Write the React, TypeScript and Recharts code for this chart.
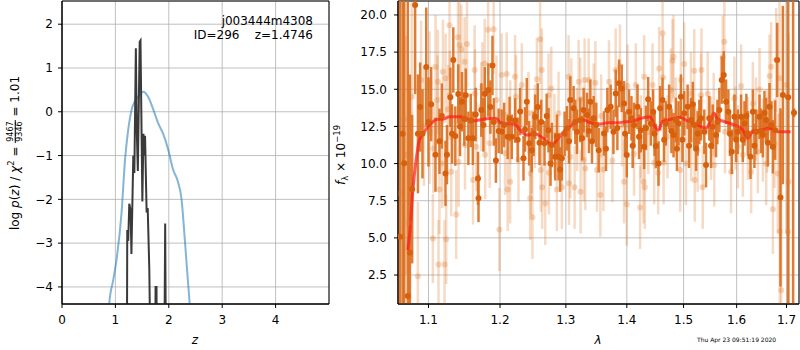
import React from 'react'
import {
  ComposedChart,
  Line,
  Scatter,
  ErrorBar,
  XAxis,
  YAxis,
  CartesianGrid,
  ReferenceArea,
} from 'recharts'

const FONT = '"DejaVu Sans", Verdana, sans-serif'

// left panel: log p(z)
const zTicks = [0, 1, 2, 3, 4]
const logpTicks = [-4, -3, -2, -1, 0, 1, 2]

const pzPrior: [number, number][] = [
  [0.85, -5.2], [0.885, -4.38], [0.96, -3.84], [1.03, -3.3], [1.115, -2.31],
  [1.18, -1.1], [1.24, -0.41], [1.32, 0.12], [1.43, 0.35], [1.52, 0.46],
  [1.61, 0.35], [1.71, 0.05], [1.8, -0.26], [1.89, -0.49], [1.99, -0.87],
  [2.08, -1.32], [2.17, -1.59], [2.24, -2.01], [2.3, -2.92], [2.36, -3.9],
  [2.39, -4.38], [2.42, -5.2],
]

const pzFit: [number, number][] = [
  [1.215, -6], [1.222, -2.7], [1.24, -2.95], [1.26, -2.1], [1.285, -2.25],
  [1.3, -3.25], [1.335, -1.0], [1.355, -1.4], [1.383, 1.45], [1.4, -0.4],
  [1.42, -1.35], [1.455, 1.6], [1.47, 1.63], [1.505, -2.05], [1.525, -0.5],
  [1.54, -1.0], [1.555, -0.55], [1.585, -2.3], [1.605, -2.2], [1.635, -3.6],
  [1.66, -6], [1.745, -6], [1.752, -4.0], [1.77, -4.0], [1.776, -6],
  [1.915, -6], [1.932, -2.55], [1.948, -6],
]

// right panel: spectrum
const lamTicks = [1.1, 1.2, 1.3, 1.4, 1.5, 1.6, 1.7]
const fluxTicks = [2.5, 5, 7.5, 10, 12.5, 15, 17.5, 20]

// [lambda, flux, err]
const fluxFaint: [number, number, number][] = [
  [1.0625, 8.0, 15], [1.068, 13.0, 12], [1.0704, 10.57, 8], [1.074, 6.0, 10],
  [1.078, 14.5, 8], [1.0859, 2.42, 5], [1.0902, 15.62, 4], [1.094, 12.5, 4],
  [1.1014, 15.4, 3.5], [1.1015, 12.14, 3.5], [1.1059, 4.96, 3], [1.1065, 11.02, 3],
  [1.1095, 16.5, 3.5], [1.112, 14.28, 3], [1.1127, 15.5, 3.5], [1.1135, 3.21, 3],
  [1.1148, 8.26, 3], [1.1185, 10.0, 3], [1.1195, 16.18, 3.5], [1.1217, 3.21, 3],
  [1.1231, 15.74, 3], [1.124, 4.9, 3], [1.1264, 13.65, 3], [1.1285, 19.3, 3.5],
  [1.129, 14.6, 3], [1.1309, 9.45, 3], [1.1378, 6.58, 3], [1.1402, 18.5, 3],
  [1.141, 10.1, 3], [1.1424, 17.98, 3], [1.1448, 17.7, 3], [1.1494, 16.86, 3],
  [1.15, 11.25, 3], [1.1528, 18.05, 3], [1.1612, 8.9, 3], [1.1635, 16.3, 3],
  [1.164, 14.7, 3], [1.1659, 11.13, 3], [1.173, 13.82, 3], [1.1745, 15.17, 3],
  [1.1778, 16.74, 3], [1.1785, 10.6, 3], [1.1827, 19.0, 3], [1.185, 11.36, 3],
  [1.1908, 19.04, 3], [1.1947, 14.28, 3], [1.199, 5.57, 2.8],
  [1.2024, 15.96, 2.8], [1.2074, 10.69, 2.8], [1.2098, 16.03, 2.8], [1.2112, 8.26, 2.8],
  [1.2148, 8.77, 2.8], [1.215, 12.8, 2.8], [1.2221, 15.85, 2.8], [1.2235, 14.5, 2.8],
  [1.2272, 10.24, 2.8], [1.2322, 15.29, 2.8], [1.2422, 13.38, 2.8], [1.2448, 7.66, 2.8],
  [1.2455, 9.34, 2.8], [1.2472, 10.8, 2.8], [1.2482, 6.38, 2.8], [1.252, 12.5, 2.8],
  [1.255, 15.67, 2.8], [1.26, 18.36, 3], [1.261, 9.56, 2.8], [1.2625, 16.3, 2.8],
  [1.2632, 8.4, 2.8], [1.2678, 7.32, 2.8], [1.2729, 14.6, 2.8], [1.2735, 9.38, 2.8],
  [1.2771, 15.06, 2.8], [1.282, 11.9, 2.8], [1.2858, 8.26, 2.8], [1.2885, 13.38, 2.8],
  [1.2937, 8.4, 2.8], [1.3043, 15.85, 2.8], [1.305, 8.67, 2.8], [1.307, 10.46, 2.8],
  [1.3086, 14.28, 2.8], [1.3139, 8.4, 2.8], [1.318, 12.3, 2.8], [1.3203, 15.51, 2.8],
  [1.323, 14.33, 2.8], [1.3235, 8.1, 2.8], [1.3284, 10.24, 2.8], [1.33, 15.62, 2.8],
  [1.3311, 9.67, 2.8], [1.3365, 15.62, 2.8], [1.3447, 13.94, 2.8], [1.3475, 15.44, 2.8],
  [1.3501, 9.56, 2.8], [1.3557, 7.88, 2.8], [1.357, 13.2, 2.8],
  [1.3607, 9.6, 2.8], [1.37, 15.5, 2.8], [1.3756, 10.2, 2.8], [1.3811, 16.3, 2.8],
  [1.3883, 16.57, 2.8], [1.392, 12.6, 2.8], [1.3953, 8.77, 2.8], [1.3999, 7.27, 2.8],
  [1.4011, 15.22, 2.8], [1.4124, 10.64, 2.8], [1.4153, 15.29, 2.8], [1.4228, 7.05, 2.8],
  [1.424, 11.8, 2.8], [1.4287, 8.77, 2.8], [1.4298, 15.85, 2.8], [1.431, 8.4, 2.8],
  [1.437, 12.1, 2.8], [1.4445, 15.29, 2.8], [1.4473, 10.05, 2.8], [1.4544, 9.38, 2.8],
  [1.4562, 16.4, 2.8], [1.4622, 18.77, 3], [1.463, 15.8, 2.8], [1.464, 10.05, 2.8],
  [1.4711, 11.8, 2.8], [1.477, 14.95, 2.8], [1.48, 16.92, 2.8], [1.4818, 17.19, 2.8],
  [1.486, 13.0, 2.8], [1.4939, 9.56, 2.8], [1.4952, 15.62, 2.8], [1.5012, 16.7, 2.8],
  [1.5043, 10.0, 2.8], [1.514, 11.6, 2.8], [1.5135, 14.7, 2.8], [1.5196, 16.25, 2.8],
  [1.5205, 8.89, 2.8], [1.5259, 10.9, 2.8], [1.5321, 14.6, 2.8], [1.533, 16.3, 2.8],
  [1.5353, 8.4, 2.8],
  [1.5447, 14.7, 2.8], [1.5509, 11.7, 2.8], [1.556, 13.3, 2.8], [1.5571, 9.9, 2.8],
  [1.5732, 17.15, 2.8], [1.5763, 18.2, 2.8], [1.5775, 12.14, 2.8], [1.5892, 9.45, 2.8],
  [1.5956, 14.4, 2.8], [1.598, 12.4, 2.8], [1.6023, 11.13, 2.8], [1.6087, 15.22, 2.8],
  [1.6121, 10.57, 2.8], [1.622, 11.7, 2.8], [1.6284, 9.45, 2.8], [1.6318, 14.05, 2.8],
  [1.638, 13.0, 2.8], [1.6417, 10.8, 2.8], [1.6451, 14.99, 2.8], [1.6518, 11.58, 2.8],
  [1.6585, 10.0, 2.8], [1.66, 12.2, 2.8], [1.6652, 15.89, 2.8], [1.6686, 16.52, 3],
  [1.6721, 6.92, 3], [1.6754, 11.36, 3], [1.6788, 16.97, 3.5], [1.6822, 9.34, 4],
  [1.6856, 15.74, 8], [1.686, 5.41, 8], [1.6891, 1.48, 12], [1.6996, 15.29, 10],
  [1.7031, 5.41, 10], [1.7044, 8.77, 10],
]

const fluxGood: [number, number, number][] = [
  [1.0625, 5.07, 20], [1.066, 12.0, 20], [1.068, 10.03, 14], [1.0727, 1.08, 20],
  [1.0755, 4.0, 12], [1.0784, 8.28, 5], [1.0823, 20.67, 6], [1.086, 12.0, 4],
  [1.0889, 13.8, 3], [1.092, 12.0, 3], [1.097, 16.5, 4], [1.1, 12.8, 3],
  [1.1036, 14.0, 2.5], [1.1094, 10.6, 2.5], [1.1148, 11.5, 2.2], [1.118, 13.2, 2.2],
  [1.123, 9.34, 2.2], [1.125, 10.6, 2], [1.1297, 14.46, 2], [1.132, 12.0, 2],
  [1.1337, 16.97, 2.2], [1.1365, 11.85, 2], [1.1406, 14.68, 2], [1.143, 12.5, 2],
  [1.1457, 14.16, 2], [1.149, 13.0, 1.8], [1.151, 14.6, 1.8], [1.1547, 11.7, 1.8],
  [1.158, 12.9, 1.8], [1.161, 11.7, 1.8], [1.165, 13.3, 1.8], [1.1683, 9.0, 1.8],
  [1.169, 7.66, 1.6], [1.173, 13.6, 1.8], [1.176, 12.6, 1.8], [1.178, 14.7, 1.8],
  [1.183, 14.95, 1.8], [1.186, 13.8, 1.8], [1.189, 16.6, 2], [1.191, 12.8, 1.6],
  [1.194, 10.2, 1.5], [1.198, 12.2, 1.5],
  [1.2024, 12.14, 1.5], [1.206, 12.6, 1.5], [1.2112, 11.8, 1.5], [1.214, 13.0, 1.5],
  [1.2172, 11.8, 1.5], [1.2222, 12.9, 1.5], [1.226, 11.6, 1.5], [1.2297, 13.5, 1.6],
  [1.2347, 10.35, 1.5], [1.237, 12.3, 1.5], [1.2397, 14.16, 1.6], [1.2432, 11.37, 1.5],
  [1.2472, 10.9, 1.5], [1.25, 12.0, 1.5], [1.2524, 13.15, 1.5], [1.2564, 13.8, 1.6],
  [1.259, 11.4, 1.5], [1.2616, 12.8, 1.5], [1.2667, 11.36, 1.5], [1.27, 13.2, 1.5],
  [1.2729, 12.25, 1.5], [1.276, 10.0, 1.5], [1.278, 11.25, 1.5], [1.2833, 10.46, 1.6],
  [1.286, 11.8, 1.5], [1.2885, 10.46, 1.6], [1.291, 9.6, 1.5], [1.2937, 10.35, 1.5],
  [1.298, 12.0, 1.5], [1.3017, 12.37, 1.5], [1.305, 11.5, 1.5], [1.307, 14.28, 1.6],
  [1.3123, 13.72, 1.5], [1.315, 12.8, 1.5], [1.3176, 12.14, 1.5], [1.323, 12.93, 1.5],
  [1.326, 11.7, 1.5], [1.3284, 13.6, 1.5], [1.3338, 13.27, 1.5], [1.337, 12.2, 1.5],
  [1.3393, 14.16, 1.5], [1.342, 11.5, 1.5], [1.3447, 13.05, 1.5], [1.349, 12.6, 1.5],
  [1.3529, 10.9, 1.5],
  [1.3617, 12.03, 1.5], [1.365, 11.0, 1.5], [1.3673, 13.6, 1.5], [1.3728, 13.82, 1.5],
  [1.3774, 12.14, 1.5], [1.3813, 14.72, 1.6], [1.384, 12.4, 1.5], [1.3869, 15.4, 1.6],
  [1.3914, 15.06, 1.6], [1.3953, 14.05, 1.5], [1.397, 12.0, 1.5], [1.3999, 10.57, 1.5],
  [1.4038, 13.49, 1.5], [1.4079, 13.05, 1.5], [1.41, 11.2, 1.5], [1.4124, 12.6, 1.5],
  [1.4183, 13.82, 1.5], [1.421, 11.8, 1.5], [1.424, 12.25, 1.5], [1.4298, 11.13, 1.5],
  [1.433, 12.4, 1.5], [1.4368, 14.33, 1.5], [1.4415, 12.7, 1.5], [1.4455, 13.49, 1.5],
  [1.448, 12.0, 1.5], [1.4503, 11.18, 1.5], [1.455, 10.0, 1.5], [1.4579, 13.72, 1.5],
  [1.4621, 14.28, 1.5], [1.465, 11.6, 1.5], [1.468, 12.7, 1.5], [1.4739, 13.82, 1.5],
  [1.478, 12.2, 1.5], [1.4818, 11.92, 1.5], [1.486, 12.93, 1.5], [1.488, 11.0, 1.5],
  [1.4908, 12.7, 1.5], [1.4952, 14.5, 1.5], [1.498, 11.6, 1.5], [1.5012, 13.38, 1.5],
  [1.5074, 13.82, 1.5], [1.51, 11.2, 1.5], [1.5135, 12.93, 1.5], [1.517, 14.0, 1.5],
  [1.5196, 12.6, 1.5], [1.523, 11.0, 1.5], [1.5259, 12.03, 1.5], [1.529, 12.8, 1.5],
  [1.5321, 13.05, 1.5],
  [1.5383, 12.14, 1.5], [1.5415, 9.9, 1.5], [1.5477, 13.05, 1.5], [1.551, 11.2, 1.5],
  [1.5541, 12.48, 1.5], [1.5604, 11.92, 1.5], [1.563, 12.8, 1.5], [1.5667, 13.6, 1.5],
  [1.5712, 15.62, 1.6], [1.5751, 15.96, 1.6], [1.5796, 14.16, 1.5], [1.584, 13.49, 1.5],
  [1.587, 12.0, 1.5], [1.5906, 10.8, 1.5], [1.5957, 13.15, 1.5], [1.599, 11.6, 1.5],
  [1.6023, 12.14, 1.5], [1.6087, 13.15, 1.5], [1.612, 11.6, 1.5], [1.6153, 12.7, 1.5],
  [1.619, 13.2, 1.5], [1.622, 12.03, 1.5], [1.6271, 10.46, 1.5], [1.6319, 13.49, 1.5],
  [1.635, 11.2, 1.5], [1.6385, 12.14, 1.5], [1.6451, 13.15, 1.5], [1.648, 12.2, 1.5],
  [1.6518, 11.92, 1.5], [1.655, 13.4, 1.5], [1.6585, 12.93, 1.5], [1.662, 11.4, 1.6],
  [1.6652, 13.82, 1.6], [1.669, 12.6, 1.6], [1.672, 11.13, 1.8], [1.6767, 12.25, 2],
  [1.6808, 16.97, 2.5], [1.6876, 7.72, 6], [1.6925, 14.61, 6], [1.7035, 14.46, 25],
  [1.7137, 25.0, 30], [1.7155, 13.42, 0.3],
]

const modelFlux: [number, number][] = [
  [1.0727, 4.18], [1.0757, 5.52], [1.079, 7.99], [1.0836, 10.24], [1.0879, 11.58],
  [1.0947, 12.14], [1.1014, 12.59], [1.1128, 12.98], [1.1195, 12.98], [1.1285, 13.15],
  [1.1424, 13.15], [1.1517, 13.04], [1.1602, 12.88], [1.1706, 12.93], [1.185, 13.04],
  [1.1947, 13.04], [1.2005, 12.75], [1.2074, 12.7], [1.2221, 12.64], [1.2297, 12.25],
  [1.2397, 11.92], [1.2524, 11.99], [1.2651, 11.7], [1.278, 11.25], [1.2858, 11.58],
  [1.2964, 12.14], [1.3043, 12.37], [1.315, 12.82], [1.3284, 12.93], [1.3393, 12.75],
  [1.3557, 12.66], [1.3673, 12.75], [1.3841, 12.75], [1.3982, 12.82], [1.4124, 12.88],
  [1.424, 13.04], [1.4403, 13.15], [1.4473, 12.59], [1.4544, 12.25], [1.4622, 12.82],
  [1.477, 12.98], [1.4952, 13.11], [1.5043, 12.93], [1.5196, 12.7], [1.5353, 12.44],
  [1.5415, 12.37], [1.5496, 12.82], [1.556, 13.38], [1.5635, 12.98], [1.5763, 12.82],
  [1.5956, 12.59], [1.6121, 12.25], [1.622, 11.7], [1.6318, 12.19], [1.6484, 12.25],
  [1.6652, 12.37], [1.6822, 12.14], [1.7084, 12.14],
]

const toXY = (rows: [number, number][]) => rows.map(([x, y]) => ({ x, y }))
const toXYE = (rows: [number, number, number][]) => rows.map(([x, y, err]) => ({ x, y, err }))

const tickStyle = { fontSize: 12, fill: '#000', fontFamily: FONT }
const minus = (v: number) => String(v).replace('-', '\u2212')

const faintDot = (p: any) => <circle cx={p.cx} cy={p.cy} r={3} fill="#e07a2a" fillOpacity={0.3} />
const goodDot = (p: any) => <circle cx={p.cx} cy={p.cy} r={3} fill="#d8600c" />

const abs = (extra: React.CSSProperties): React.CSSProperties => ({
  position: 'absolute',
  fontFamily: FONT,
  color: '#000',
  whiteSpace: 'pre',
  ...extra,
})

// error bars are not clipped by recharts, so clip the scatter layers to the plot box
const clipCss = `
.spec .recharts-scatter, .spec .recharts-errorBars, .spec .recharts-errorBar { clip-path: url(#specPlot); }
`

export default function App() {
  return (
    <div style={{ position: 'absolute', left: 0, top: 0, width: 800, height: 350, background: '#fff' }}>
      <style>{clipCss}</style>
      <svg width={0} height={0} style={{ position: 'absolute' }}>
        <defs>
          <clipPath id="specPlot" clipPathUnits="userSpaceOnUse">
            <rect x={68} y={1} width={401} height={303} />
          </clipPath>
        </defs>
      </svg>

      <div style={{ position: 'absolute', left: 0, top: 0 }}>
        <ComposedChart width={340} height={350} margin={{ top: 1, right: 11, bottom: 0, left: 0 }}>
          <CartesianGrid stroke="#b0b0b0" strokeWidth={0.8} />
          <XAxis
            dataKey="x"
            type="number"
            domain={[0, 5]}
            ticks={zTicks}
            allowDataOverflow
            height={46}
            tick={tickStyle}
            tickSize={4}
            tickMargin={7}
            stroke="#000"
          />
          <YAxis
            dataKey="y"
            type="number"
            domain={[-4.39, 2.53]}
            ticks={logpTicks}
            allowDataOverflow
            width={62}
            tick={tickStyle}
            tickSize={4}
            tickMargin={5}
            tickFormatter={minus}
            stroke="#000"
          />
          <Line
            data={toXY(pzPrior)}
            dataKey="y"
            type="monotone"
            stroke="#1f77b4"
            strokeOpacity={0.55}
            strokeWidth={2}
            dot={false}
            isAnimationActive={false}
          />
          <Line
            data={toXY(pzFit)}
            dataKey="y"
            type="linear"
            stroke="#3a3a3a"
            strokeWidth={2}
            dot={false}
            isAnimationActive={false}
          />
          <ReferenceArea x1={0} x2={5} y1={-4.39} y2={2.53} fill="none" stroke="#000" strokeWidth={1} />
        </ComposedChart>
      </div>

      <div className="spec" style={{ position: 'absolute', left: 330, top: 0 }}>
        <ComposedChart width={470} height={350} margin={{ top: 1, right: 1, bottom: 0, left: 0 }}>
          <CartesianGrid stroke="#b0b0b0" strokeWidth={0.8} />
          <XAxis
            dataKey="x"
            type="number"
            scale="log"
            domain={[1.06, 1.726]}
            ticks={lamTicks}
            allowDataOverflow
            height={46}
            tick={tickStyle}
            tickSize={4}
            tickMargin={7}
            tickFormatter={(v: number) => v.toFixed(1)}
            stroke="#000"
          />
          <YAxis
            dataKey="y"
            type="number"
            domain={[0.55, 20.94]}
            ticks={fluxTicks}
            allowDataOverflow
            width={68}
            tick={tickStyle}
            tickSize={4}
            tickMargin={7}
            tickFormatter={(v: number) => v.toFixed(1)}
            stroke="#000"
          />
          <Scatter data={toXYE(fluxFaint)} shape={faintDot} isAnimationActive={false}>
            <ErrorBar
              dataKey="err"
              direction="y"
              width={0}
              stroke="#e07a2a"
              strokeOpacity={0.28}
              strokeWidth={2.5}
              isAnimationActive={false}
            />
          </Scatter>
          <Scatter data={toXYE(fluxGood)} shape={goodDot} isAnimationActive={false}>
            <ErrorBar
              dataKey="err"
              direction="y"
              width={0}
              stroke="#dc6e1e"
              strokeOpacity={0.9}
              strokeWidth={2.5}
              isAnimationActive={false}
            />
          </Scatter>
          <Line
            data={toXY(modelFlux)}
            dataKey="y"
            type="monotone"
            stroke="#ff1a1a"
            strokeOpacity={0.72}
            strokeWidth={3}
            dot={false}
            isAnimationActive={false}
          />
          <ReferenceArea x1={1.06} x2={1.726} y1={0.55} y2={20.94} fill="none" stroke="#000" strokeWidth={1} />
        </ComposedChart>
      </div>

      <div style={abs({ right: 487, top: 14.5, fontSize: 12, lineHeight: '12px', textAlign: 'right' })}>
        j003444m4308
      </div>
      <div style={abs({ right: 487, top: 29.3, fontSize: 12, lineHeight: '12px', textAlign: 'right' })}>
        {'ID=296    z=1.4746'}
      </div>

      <div
        style={abs({
          left: 14,
          top: 153,
          fontSize: 12,
          lineHeight: '14px',
          transform: 'translate(-50%, -50%) rotate(-90deg)',
        })}
      >
        log <i>p</i>(<i>z</i>) / <i>χ</i>
        <sup style={{ fontSize: 8.5 }}>2</sup> ={' '}
        <span
          style={{
            display: 'inline-flex',
            flexDirection: 'column',
            alignItems: 'center',
            verticalAlign: 'middle',
            fontSize: 8,
            lineHeight: '8.5px',
          }}
        >
          <span style={{ borderBottom: '0.8px solid #000', padding: '0 1px' }}>9467</span>
          <span>9346</span>
        </span>{' '}
        = 1.01
      </div>

      <div
        style={abs({
          left: 341,
          top: 155,
          fontSize: 12,
          lineHeight: '14px',
          transform: 'translate(-50%, -50%) rotate(-90deg)',
        })}
      >
        <i>f</i>
        <sub style={{ fontSize: 8.5 }}>λ</sub> × 10<sup style={{ fontSize: 8.5 }}>−19</sup>
      </div>

      <div style={abs({ left: 195, top: 340, fontSize: 12, transform: 'translate(-50%, -50%)', fontStyle: 'italic' })}>
        z
      </div>
      <div style={abs({ left: 598, top: 340, fontSize: 12, transform: 'translate(-50%, -50%)', fontStyle: 'italic' })}>
        λ
      </div>
      <div style={abs({ left: 697, top: 336, fontSize: 6, lineHeight: '8px' })}>Thu Apr 23 09:51:19 2020</div>
    </div>
  )
}
